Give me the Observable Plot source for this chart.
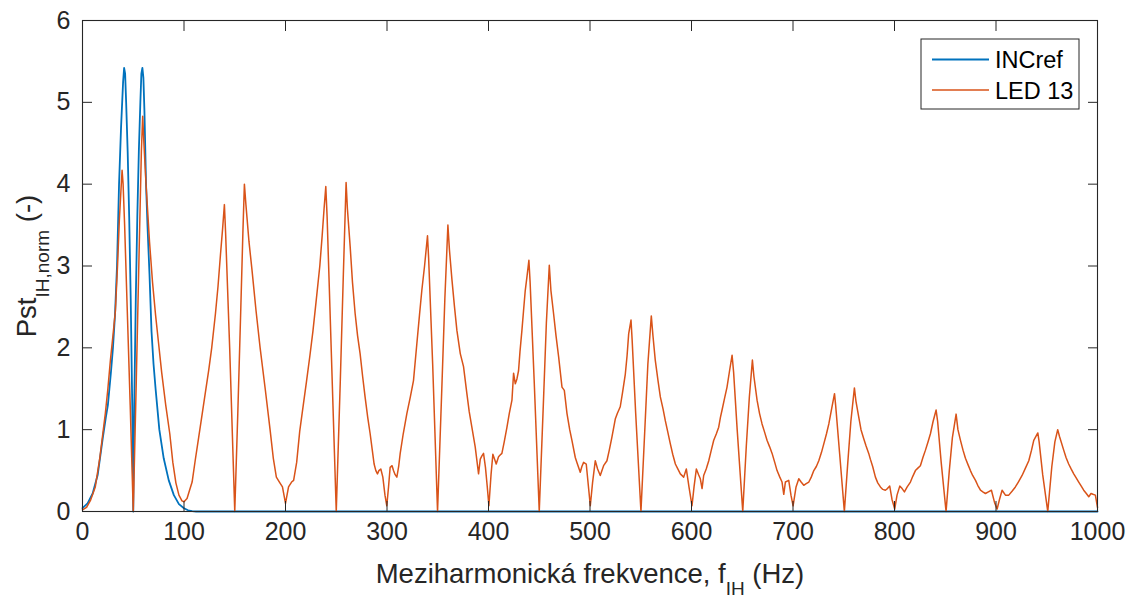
<!DOCTYPE html>
<html><head><meta charset="utf-8">
<script src="https://cdn.jsdelivr.net/npm/d3@7"></script>
<script src="https://cdn.jsdelivr.net/npm/@observablehq/plot@0.6"></script>
<style>
body{margin:0;background:#fff}
#chart{position:relative;width:1128px;height:599px;overflow:hidden}
</style>
</head><body><div id="chart"></div>
<script>
// ---- Data ----
const seriesNames = ["INCref", "LED 13"];
const seriesColors = ["#0072BD", "#D95319"];
const xTicks = [0,100,200,300,400,500,600,700,800,900,1000];
const yTicks = [0,1,2,3,4,5,6];

const incF = [0,5,10,15,20,23,25,28,30,32,34,36,38,40,41,42,43,44.5,46,47.5,49,50,51,52.5,54,55.5,57,58,59,60,61,62.6,64,66,68,70,72,75.7,80,85,90,95,100,104,108,112,1000];
const incV = [0.04,0.1,0.22,0.45,0.9,1.15,1.3,1.7,2.0,2.4,3.0,4.0,4.7,5.25,5.42,5.35,5.0,4.4,3.6,2.6,1.3,0,1.3,2.6,3.6,4.4,5.0,5.35,5.42,5.3,4.9,4.0,3.5,2.9,2.2,1.8,1.5,1.0,0.65,0.38,0.2,0.09,0.04,0.015,0.005,0,0];

const ledF = [0,4,8,12.6,17,20,22.5,25,27.5,30,32.4,34.5,36.3,38,39,40,41.5,44,47,50,53,56,58,59.3,60.5,62.6,66,69,72,75,78,82,86,89,92,95,98,100,103,106,108,111,114.5,118,121,124.4,127.3,131,133.5,136,138,139.8,141,145,150,153,156,158,159.5,161,164,167,171,175,180,184.8,188,191,194,197,200,203,206,208,211,214,217.5,220.7,224,227,230,233.8,236,238,239.7,241,245,250,254,257,259.7,261,263.7,266,268.6,271,273.5,276,278.4,281,283.4,285.5,287.3,289,290.6,292,293.9,295.9,298,299.8,301.5,303.1,305,306.4,308,309.7,311.5,313,316,319.6,323,326.1,329.4,332,334.3,337,339.9,341,345,349.8,354,357,360,361.5,364,366.5,368.9,372.2,375.4,378.7,381,383.6,386.9,390.2,391.9,393.5,395.1,397,398.8,400.4,402.5,404.3,406,407.6,409.9,411.5,413.2,415.5,418.2,420.5,423.1,424.7,426.4,428,429.6,431,432.9,434.5,436.2,438,439.8,441,445,450,454,457,459.9,461.5,464.1,466.5,469.1,472.4,474.7,477.3,480,482.2,485.5,487.1,490.4,492,493.7,496.3,498.5,500.3,502.5,505.2,507.5,510.1,513.4,516.7,519,521.6,524.9,527,529.8,532,534.8,536.5,538.1,540.4,541.5,545,550.2,554,557,560.4,562,564.3,567,569.3,572,574.2,576.5,579.1,581.5,584.1,586.5,589,592.3,594.9,597.5,600.5,602.5,604.8,607,608.7,610.4,612,614.5,617,619.5,621.9,624.5,626.8,628.5,630.1,632.5,635,637.5,640,641.5,645,650.5,654,657,660,661.5,664.6,667,669.5,672,674.4,677,679.4,682,684.3,687,689.2,690.9,692.5,695.8,698,700.1,703,705.7,708,710.6,713,715.6,718,720.5,723,725.4,728,730.4,733,735.3,738,740.9,742,746,750.6,754,757,760.5,762,764.7,767,769.7,772,774.6,776.2,778.5,781.2,783.5,786.1,788.5,791,793,795.3,797.5,800.2,802.5,805.2,807.5,809.8,812.5,815.7,818,820.6,823,825.5,828,830.5,833,835.4,838,841,842.5,846,850.8,854,857,860.7,862.5,865,867.5,869.9,872.5,874.8,877,879.8,882,884.7,887,889.6,892.5,895.5,898.8,901.1,903.5,906,909.3,912.6,916,919.1,922,925.7,929,932.3,935,937.2,941.2,942.5,946,951,955,958,960.8,962.5,966.7,969,971.6,974,976.6,979,981.5,984,986.4,989,991.4,993.6,995.5,997.9,1000];
const ledV = [0.02,0.05,0.14,0.3,0.65,0.95,1.2,1.5,1.85,2.15,2.45,3.0,3.56,3.95,4.17,4.0,3.5,2.5,1.3,0,1.6,3.3,4.4,4.83,4.5,4.0,3.3,2.8,2.4,2.05,1.7,1.3,0.95,0.6,0.35,0.2,0.13,0.12,0.16,0.28,0.36,0.62,0.91,1.2,1.45,1.73,2.0,2.42,2.75,3.15,3.45,3.75,3.4,2.0,0,1.2,2.5,3.4,4.0,3.75,3.3,2.95,2.45,2.0,1.5,1.0,0.65,0.42,0.36,0.3,0.1,0.3,0.36,0.38,0.6,0.98,1.3,1.59,1.9,2.2,2.55,3.0,3.35,3.7,3.97,3.6,2.0,0,1.6,2.9,4.02,3.7,3.24,2.8,2.42,2.15,1.93,1.65,1.4,1.15,0.95,0.75,0.58,0.5,0.46,0.5,0.52,0.42,0.2,0.07,0.3,0.54,0.56,0.5,0.45,0.42,0.55,0.71,0.95,1.2,1.4,1.6,2.05,2.4,2.7,3.0,3.37,3.1,1.8,0,1.5,2.6,3.5,3.2,2.83,2.5,2.21,1.93,1.77,1.44,1.22,1.03,0.79,0.46,0.64,0.68,0.71,0.54,0.3,0.07,0.45,0.7,0.64,0.58,0.67,0.69,0.71,0.85,1.03,1.2,1.36,1.69,1.56,1.62,1.72,1.95,2.21,2.45,2.7,2.88,3.07,2.8,1.6,0,1.3,2.3,3.01,2.7,2.42,2.15,1.89,1.52,1.48,1.2,1.0,0.87,0.66,0.6,0.48,0.55,0.6,0.58,0.3,0.07,0.35,0.62,0.52,0.44,0.56,0.62,0.75,0.91,1.13,1.2,1.28,1.45,1.68,1.9,2.17,2.34,2.1,1.2,0,1.0,1.8,2.39,2.15,1.85,1.6,1.4,1.25,1.11,0.98,0.83,0.7,0.58,0.52,0.46,0.42,0.52,0.3,0.07,0.3,0.52,0.45,0.4,0.28,0.44,0.52,0.62,0.75,0.87,0.95,1.03,1.15,1.24,1.38,1.52,1.72,1.91,1.7,1.0,0,0.8,1.4,1.85,1.65,1.36,1.2,1.07,0.97,0.87,0.79,0.71,0.6,0.5,0.42,0.36,0.21,0.36,0.38,0.2,0.07,0.3,0.4,0.36,0.32,0.34,0.36,0.42,0.5,0.55,0.62,0.72,0.83,0.95,1.07,1.25,1.44,1.3,0.7,0,0.6,1.1,1.51,1.35,1.16,1.0,0.89,0.8,0.71,0.64,0.55,0.42,0.35,0.3,0.27,0.26,0.28,0.31,0.15,0.03,0.2,0.31,0.28,0.24,0.3,0.36,0.43,0.5,0.53,0.56,0.66,0.75,0.85,0.95,1.1,1.24,1.1,0.6,0,0.5,0.9,1.19,1.0,0.87,0.75,0.65,0.57,0.5,0.44,0.38,0.32,0.26,0.24,0.22,0.24,0.26,0.1,0.03,0.15,0.26,0.2,0.2,0.25,0.3,0.36,0.44,0.53,0.62,0.75,0.87,0.96,0.85,0.45,0,0.55,0.85,1.0,0.92,0.75,0.66,0.58,0.52,0.46,0.41,0.36,0.31,0.26,0.22,0.18,0.22,0.21,0.2,0.05];

// ---- Build tables ----
const inc = incF.map((f, i) => ({f, v: incV[i]}));
const led = ledF.map((f, i) => ({f, v: ledV[i]}));

const FONT = "'Liberation Sans', Arial, Helvetica, sans-serif";
const AX = "#262626";
const fmt = d => String(d);

const plot = Plot.plot({
  width: 1128, height: 599,
  marginLeft: 82, marginRight: 31, marginTop: 20, marginBottom: 88,
  style: {fontFamily: FONT, fontSize: "25px", color: AX, background: "white", overflow: "visible"},
  x: {domain: [0, 1000]},
  y: {domain: [0, 6]},
  marks: [
    Plot.line(inc, {x: "f", y: "v", stroke: seriesColors[0], strokeWidth: 1.8}),
    Plot.line(led, {x: "f", y: "v", stroke: seriesColors[1], strokeWidth: 1.5}),
    Plot.frame({stroke: AX, strokeWidth: 1.1}),
    Plot.axisX({ticks: xTicks, anchor: "bottom", tickSize: 0, tickPadding: 11, tickFormat: fmt, label: null, fontSize: 25, fill: AX}),
    Plot.axisY({ticks: yTicks, anchor: "left", tickSize: 0, tickPadding: 12, tickFormat: fmt, label: null, fontSize: 25, fill: AX}),
    Plot.axisX({ticks: xTicks, anchor: "bottom", tickSize: -10, tickFormat: () => "", label: null, stroke: AX}),
    Plot.axisX({ticks: xTicks, anchor: "top", tickSize: -10, tickFormat: () => "", label: null, stroke: AX}),
    Plot.axisY({ticks: yTicks, anchor: "left", tickSize: -10, tickFormat: () => "", label: null, stroke: AX}),
    Plot.axisY({ticks: yTicks, anchor: "right", tickSize: -10, tickFormat: () => "", label: null, stroke: AX})
  ]
});

const svg = d3.select(plot);

// x label with subscript
const xl = svg.append("text")
  .attr("x", 590).attr("y", 583)
  .attr("text-anchor", "middle")
  .attr("fill", AX).style("font-family", FONT).style("font-size", "27.5px");
xl.append("tspan").text("Meziharmonická frekvence, f");
xl.append("tspan").attr("dy", 12).style("font-size", "19px").text("IH");
xl.append("tspan").attr("dy", -12).text(" (Hz)");

// y label with subscript
const yl = svg.append("text")
  .attr("transform", "translate(36,266) rotate(-90)")
  .attr("text-anchor", "middle")
  .attr("fill", AX).style("font-family", FONT).style("font-size", "27.5px");
yl.append("tspan").text("Pst");
yl.append("tspan").attr("dy", 13).style("font-size", "19px").text("IH,norm");
yl.append("tspan").attr("dy", -13).text(" (-)");

// legend
const lg = svg.append("g").attr("text-anchor", "start");
lg.append("rect").attr("x", 921).attr("y", 39).attr("width", 158).attr("height", 70)
  .attr("fill", "white").attr("stroke", AX).attr("stroke-width", 1);
seriesNames.forEach((name, i) => {
  const cy = 59.5 + i * 30.5;
  lg.append("line").attr("x1", 932).attr("x2", 989).attr("y1", cy).attr("y2", cy)
    .attr("stroke", seriesColors[i]).attr("stroke-width", i === 0 ? 1.8 : 1.5);
  lg.append("text").attr("x", 995).attr("y", cy + 8.5).attr("text-anchor", "start")
    .attr("fill", "#000").style("font-family", FONT).style("font-size", "23.5px").text(name);
});

document.getElementById("chart").appendChild(plot);
</script>
</body></html>
